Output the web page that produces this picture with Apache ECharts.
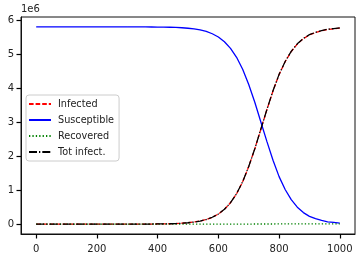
<!DOCTYPE html>
<html><head><meta charset="utf-8">
<script src="https://cdn.jsdelivr.net/npm/echarts@6/dist/echarts.min.js"></script>
<style>html,body{margin:0;padding:0;background:#fff}#c{width:362px;height:259px}</style>
</head><body><div id="c"></div>
<script>
// time steps
const days = [0,20,40,60,80,100,120,140,160,180,200,220,240,260,280,300,320,340,360,380,400,420,440,460,480,500,520,540,560,580,600,620,640,660,680,700,720,740,760,780,800,820,840,860,880,900,920,940,960,980,1000];
// values in millions (axis multiplier 1e6)
const totInfect = [0,0,0,0,0,0,0,0,0,0,0,0,0,0,0.0003,0.0007,0.0011,0.0017,0.0025,0.0037,0.0055,0.0081,0.0123,0.018,0.027,0.041,0.062,0.092,0.136,0.203,0.298,0.437,0.633,0.897,1.25,1.70,2.22,2.80,3.38,3.93,4.41,4.79,5.09,5.31,5.47,5.58,5.65,5.70,5.74,5.76,5.78];
const susceptible = [5.81,5.81,5.81,5.81,5.81,5.81,5.81,5.81,5.81,5.81,5.81,5.81,5.81,5.81,5.81,5.809,5.809,5.808,5.807,5.806,5.804,5.802,5.798,5.792,5.783,5.769,5.748,5.718,5.674,5.607,5.512,5.373,5.177,4.913,4.56,4.11,3.59,3.01,2.43,1.88,1.40,1.02,0.72,0.50,0.34,0.23,0.16,0.11,0.07,0.05,0.03];
const recovered = [0,0,0,0,0,0,0,0,0,0,0,0,0,0,0,0,0,0,0,0,0,0,0,0,0,0,0,0,0,0.001,0.001,0.001,0.002,0.002,0.003,0.003,0.004,0.004,0.005,0.005,0.006,0.006,0.006,0.007,0.007,0.007,0.007,0.008,0.008,0.008,0.008];
const infected = totInfect.map((v,i)=>Math.max(0, v - recovered[i]));
const xTicks = [0,200,400,600,800,1000];
const yTicks = [0,1,2,3,4,5,6];

const pair = arr => days.map((d,i)=>[d,arr[i]]);
const chart = echarts.init(document.getElementById('c'));
const font = 'DejaVu Sans';
const lw = 1.3;
const axisCol = '#111';
chart.setOption({
  animation:false,
  textStyle:{fontFamily:font},
  grid:{left:21,right:7,top:17,bottom:25,show:true,borderColor:axisCol,borderWidth:1,backgroundColor:'transparent'},
  xAxis:{type:'value',min:-50,max:1050,
    axisLine:{show:true,onZero:false,lineStyle:{color:axisCol,width:1}},splitLine:{show:false},
    axisTick:{show:true,length:4.5,customValues:xTicks,lineStyle:{color:'#000',width:1.2}},
    axisLabel:{customValues:xTicks,margin:10,fontSize:10,color:'#222',fontFamily:font,formatter:v=>String(v)}},
  yAxis:{type:'value',min:-0.29,max:6.10,
    axisLine:{show:true,onZero:false,lineStyle:{color:axisCol,width:1}},splitLine:{show:false},
    axisTick:{show:true,length:4.5,customValues:yTicks,lineStyle:{color:'#000',width:1.2}},
    axisLabel:{customValues:yTicks,margin:7,fontSize:10,color:'#222',fontFamily:font,formatter:v=>String(v)}},
  graphic:[{type:'text',left:21,top:4,style:{text:'1e6',font:'10px "DejaVu Sans"',fill:'#222'}}],
  legend:{orient:'vertical',left:26,top:95,itemWidth:22,itemHeight:8,itemGap:6,
    padding:[4,5,4,2],borderColor:'#ccc',borderWidth:1,borderRadius:3,backgroundColor:'rgba(255,255,255,0.8)',
    itemStyle:{opacity:0},
    textStyle:{fontSize:9.7,color:'#222',fontFamily:font,padding:[0,0,0,2]},
    data:['Infected','Susceptible','Recovered','Tot infect.']},
  series:[
    {name:'Infected',type:'line',data:pair(infected),symbol:'none',showSymbol:false,
      lineStyle:{color:'#ff0000',width:lw,type:[4.6,2]},itemStyle:{color:'#ff0000'}},
    {name:'Susceptible',type:'line',data:pair(susceptible),symbol:'none',showSymbol:false,
      lineStyle:{color:'#0000ff',width:lw,type:'solid'},itemStyle:{color:'#0000ff'}},
    {name:'Recovered',type:'line',data:pair(recovered),symbol:'none',showSymbol:false,
      lineStyle:{color:'#008000',width:lw,type:[1.3,2.1]},itemStyle:{color:'#008000'}},
    {name:'Tot infect.',type:'line',data:pair(totInfect),symbol:'none',showSymbol:false,
      lineStyle:{color:'#000000',width:lw,type:[8,2,1.3,2]},itemStyle:{color:'#000000'}}
  ]
});
</script></body></html>
